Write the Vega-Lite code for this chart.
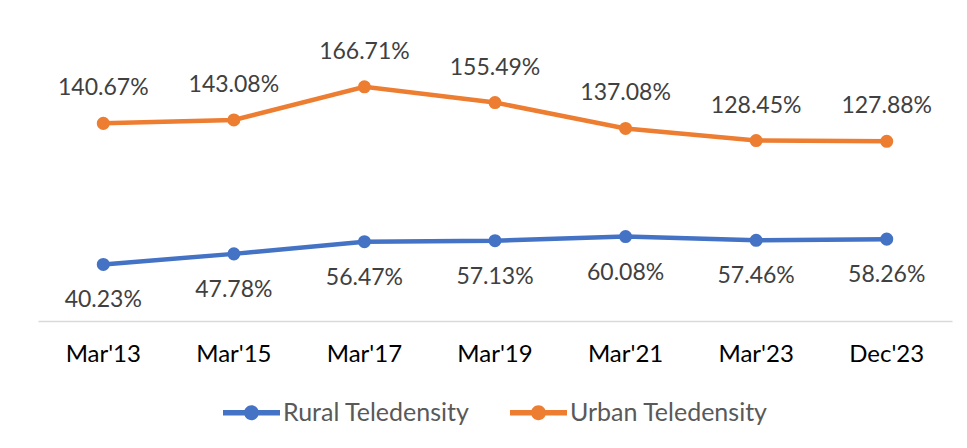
{
  "$schema": "https://vega.github.io/schema/vega-lite/v6.json",
  "width": 914,
  "height": 281,
  "autosize": {"type": "none"},
  "padding": {"left": 38, "top": 40, "right": 15, "bottom": 127},
  "background": "white",
  "config": {
    "view": {"stroke": null},
    "font": "Lato",
    "legend": {"labelFontSize": 25, "labelLimit": 0, "layout": {"bottom": {"anchor": "middle"}}}
  },
  "data": {
    "values": [
      {"period": "Mar'13", "series": "Rural Teledensity", "value": 0.4023},
      {"period": "Mar'15", "series": "Rural Teledensity", "value": 0.4778},
      {"period": "Mar'17", "series": "Rural Teledensity", "value": 0.5647},
      {"period": "Mar'19", "series": "Rural Teledensity", "value": 0.5713},
      {"period": "Mar'21", "series": "Rural Teledensity", "value": 0.6008},
      {"period": "Mar'23", "series": "Rural Teledensity", "value": 0.5746},
      {"period": "Dec'23", "series": "Rural Teledensity", "value": 0.5826},
      {"period": "Mar'13", "series": "Urban Teledensity", "value": 1.4067},
      {"period": "Mar'15", "series": "Urban Teledensity", "value": 1.4308},
      {"period": "Mar'17", "series": "Urban Teledensity", "value": 1.6671},
      {"period": "Mar'19", "series": "Urban Teledensity", "value": 1.5549},
      {"period": "Mar'21", "series": "Urban Teledensity", "value": 1.3708},
      {"period": "Mar'23", "series": "Urban Teledensity", "value": 1.2845},
      {"period": "Dec'23", "series": "Urban Teledensity", "value": 1.2788}
    ]
  },
  "encoding": {
    "x": {
      "field": "period",
      "type": "nominal",
      "sort": null,
      "scale": {"type": "band", "paddingInner": 0, "paddingOuter": 0},
      "axis": {
        "title": null,
        "labelAngle": 0,
        "labelFontSize": 24,
        "labelFontWeight": "normal",
        "labelColor": "#000000",
        "labelPadding": 21,
        "ticks": false,
        "domainColor": "#d9d9d9",
        "domainWidth": 1.5,
        "grid": false
      }
    },
    "y": {
      "field": "value",
      "type": "quantitative",
      "scale": {"domain": [0, 2], "nice": false, "zero": true},
      "axis": null
    },
    "color": {
      "field": "series",
      "type": "nominal",
      "scale": {
        "domain": ["Rural Teledensity", "Urban Teledensity"],
        "range": ["#4472C4", "#ED7D31"]
      },
      "legend": {
        "title": null,
        "orient": "bottom",
        "direction": "horizontal",
        "offset": 18,
        "labelFontSize": 25,
        "labelLimit": 0,
        "labelColor": "#595959",
        "labelOffset": 3,
        "columnPadding": 40,
        "symbolType": "M-1,-0.1H1V0.1H-1Z M-0.26,0A0.26,0.26 0 1,1 0.26,0A0.26,0.26 0 1,1 -0.26,0Z",
        "symbolSize": 3249,
        "symbolStrokeWidth": 0,
        "encode": {
          "symbols": {"update": {"fill": {"scale": "color", "field": "value"}, "fillOpacity": {"value": 1}, "strokeWidth": {"value": 0}}},
          "labels": {"update": {"fontSize": {"value": 25}}}
        }
      }
    }
  },
  "layer": [
    {"mark": {"type": "line", "strokeWidth": 4.5, "strokeCap": "round"}},
    {"mark": {"type": "point", "filled": true, "size": 170, "opacity": 1}},
    {
      "transform": [{"filter": "datum.series === 'Urban Teledensity'"}],
      "mark": {"type": "text", "dy": -35, "fontSize": 23, "color": "#404040"},
      "encoding": {"text": {"field": "value", "type": "quantitative", "format": ".2%"}, "color": {"value": "#404040"}}
    },
    {
      "transform": [{"filter": "datum.series === 'Rural Teledensity'"}],
      "mark": {"type": "text", "dy": 36, "fontSize": 23, "color": "#404040"},
      "encoding": {"text": {"field": "value", "type": "quantitative", "format": ".2%"}, "color": {"value": "#404040"}}
    }
  ]
}
